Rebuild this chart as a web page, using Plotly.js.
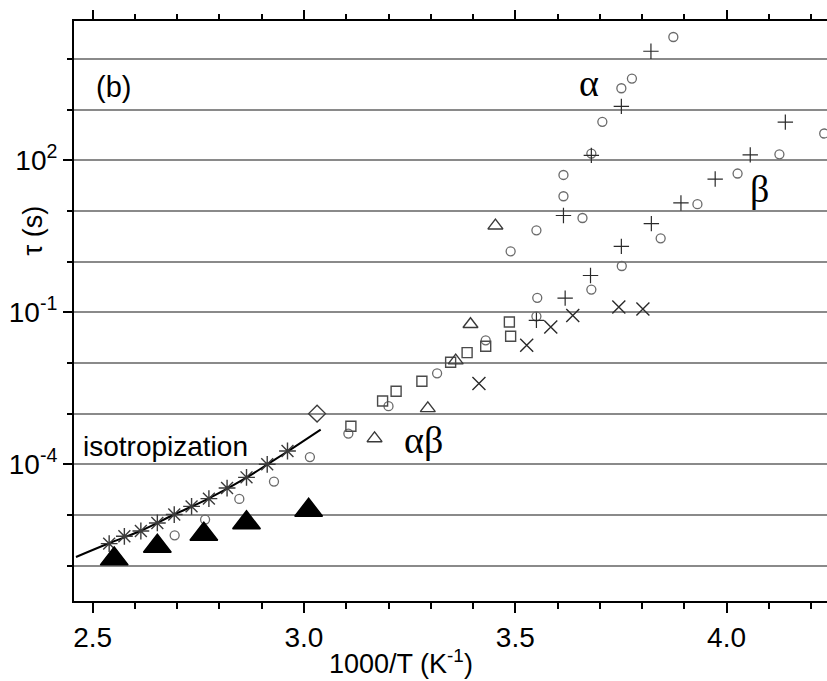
<!DOCTYPE html>
<html>
<head>
<meta charset="utf-8">
<script src="https://cdn.plot.ly/plotly-3.0.1.min.js"></script>
<style>html,body{margin:0;padding:0;background:#fff;}#chart{width:827px;height:681px;}</style>
</head>
<body>
<div id="chart"></div>
<script>
// Open circles
const circX = [3.874, 3.776, 3.751, 3.706, 3.680, 3.614, 3.614, 3.659, 3.550, 3.489, 3.844, 3.752, 3.680, 3.552, 3.550, 3.931, 4.026, 4.125, 4.231, 3.430, 3.315, 3.200, 3.105, 3.014, 2.929, 2.847, 2.766, 2.694];
const circY = [2.71e4, 4.09e3, 2.64e3, 574, 135.5, 51.3, 19.5, 7.26, 4.15, 1.60, 2.88, 0.820, 0.281, 0.193, 0.0834, 13.6, 54.8, 131, 338, 0.028, 6.25e-3, 1.40e-3, 4.04e-4, 1.39e-4, 4.56e-5, 2.07e-5, 8.11e-6, 3.97e-6];
// Plus
const plusX = [3.821, 3.751, 3.680, 3.614, 3.822, 3.751, 3.678, 3.618, 3.550, 3.892, 3.973, 4.056, 4.139];
const plusY = [1.42e4, 1161, 125, 8.13, 5.62, 2.0, 0.532, 0.19, 0.0695, 14.4, 42.6, 128, 566];
// Crosses (x)
const crossX = [3.414, 3.527, 3.584, 3.636, 3.745, 3.802];
const crossY = [3.92e-3, 0.0223, 0.0513, 0.0865, 0.127, 0.116];
// Open squares
const sqX = [3.486, 3.489, 3.430, 3.386, 3.347, 3.279, 3.218, 3.186, 3.111];
const sqY = [0.0643, 0.0336, 0.0213, 0.016, 0.0103, 4.35e-3, 2.76e-3, 1.77e-3, 5.62e-4];
// Open triangles
const triOX = [3.453, 3.394, 3.359, 3.293, 3.167];
const triOY = [5.12, 0.0582, 0.0111, 1.27e-3, 3.24e-4];
// Open diamond
const diaX = [3.031];
const diaY = [1.0e-3];
// Asterisks (isotropization)
const astX = [2.539, 2.575, 2.614, 2.653, 2.693, 2.734, 2.775, 2.818, 2.864, 2.913, 2.961];
const astY = [2.72e-6, 3.79e-6, 4.83e-6, 6.95e-6, 1.02e-5, 1.48e-5, 2.10e-5, 3.40e-5, 5.53e-5, 1.0e-4, 1.83e-4];
// Filled triangles
const triFX = [2.551, 2.653, 2.763, 2.864, 3.011];
const triFY = [1.36e-6, 2.41e-6, 4.16e-6, 7.0e-6, 1.24e-5];
// Isotropization fit curve
const fitX = [2.4605, 2.5386, 2.614, 2.692, 2.775, 2.865, 2.912, 2.962, 3.0395];
const fitY = [1.48e-6, 2.76e-6, 4.88e-6, 1.01e-5, 2.13e-5, 5.53e-5, 9.78e-5, 1.81e-4, 4.84e-4];
// Axis ticks
const xMajor = [2.5, 3.0, 3.5, 4.0];
const xMinor = [2.6, 2.7, 2.8, 2.9, 3.1, 3.2, 3.3, 3.4, 3.6, 3.7, 3.8, 3.9, 4.1, 4.2];
const yDecades = [1e-6,1e-5,1e-4,1e-3,1e-2,1e-1,1,10,100,1e3,1e4];
const yLabVals = [1e-4, 1e-1, 1e2];
const yLabText = ['10<sup>-4</sup>', '10<sup>-1</sup>', '10<sup>2</sup>'];

const SANS = 'Liberation Sans, Arial, sans-serif';
const SERIF = 'Liberation Serif, Times New Roman, serif';

function sc(x, y, sym, size, color, w) {
  return {x: x, y: y, type: 'scatter', mode: 'markers', showlegend: false, hoverinfo: 'skip',
    marker: {symbol: sym, size: size, color: color, line: {color: color, width: w}}};
}
function dummy(ax) {
  const t = {x: [null], y: [null], type: 'scatter', mode: 'markers', showlegend: false, hoverinfo: 'skip'};
  return Object.assign(t, ax);
}

const traces = [
  {x: fitX, y: fitY, type: 'scatter', mode: 'lines', line: {color: '#000', width: 2, shape: 'spline'}, showlegend: false, hoverinfo: 'skip'},
  sc(circX, circY, 'circle-open', 9, '#6a6a6a', 1.3),
  sc(plusX, plusY, 'cross-thin-open', 11, '#2a2a2a', 1.2),
  sc(crossX, crossY, 'x-thin-open', 13, '#2a2a2a', 1.4),
  sc(sqX, sqY, 'square-open', 10, '#4a4a4a', 1.4),
  sc(triOX, triOY, 'triangle-up-open', 13, '#3a3a3a', 1.4),
  sc(diaX, diaY, 'diamond-open', 13, '#3a3a3a', 1.4),
  sc(astX, astY, 'asterisk-open', 14, '#3a3a3a', 1.4),
  sc(triFX, triFY, 'triangle-up', 24, '#000', 1.5),
  dummy({yaxis: 'y2'}),
  dummy({xaxis: 'x2'}),
  dummy({xaxis: 'x3'})
];

const yRange = [-6.698, 4.749];
const xRange = [2.4558, 4.2376];

const layout = {
  width: 827, height: 681,
  margin: {l: 74, r: 0, t: 21, b: 80},
  paper_bgcolor: '#fff', plot_bgcolor: '#fff',
  showlegend: false,
  font: {family: SANS, color: '#000'},
  xaxis: {
    range: xRange, tick0: 2.5, dtick: 0.5, tickformat: '.1f',
    ticks: 'outside', ticklen: 10, tickwidth: 2, tickcolor: '#000',
    showline: true, linewidth: 2, linecolor: '#000', mirror: true,
    showgrid: false, zeroline: false,
    tickfont: {family: SANS, size: 28, color: '#000'},
    minor: {dtick: 0.1, tick0: 2.5, ticks: 'outside', ticklen: 6, tickwidth: 2, tickcolor: '#000', showgrid: false}
  },
  xaxis2: {
    range: xRange, overlaying: 'x', side: 'top', anchor: 'y',
    tickmode: 'array', tickvals: xMinor,
    ticks: 'outside', ticklen: 6, tickwidth: 2, tickcolor: '#000',
    showline: false, showgrid: false, zeroline: false, showticklabels: false
  },
  xaxis3: {
    range: xRange, overlaying: 'x', side: 'top', anchor: 'y',
    tickmode: 'array', tickvals: xMajor,
    ticks: 'outside', ticklen: 10, tickwidth: 2, tickcolor: '#000',
    showline: false, showgrid: false, zeroline: false, showticklabels: false
  },
  yaxis: {
    type: 'log', range: yRange,
    tickmode: 'array', tickvals: yDecades, showticklabels: false,
    ticks: 'outside', ticklen: 5, tickwidth: 2, tickcolor: '#000',
    showline: true, linewidth: 2, linecolor: '#000', mirror: false,
    showgrid: true, gridcolor: '#8a8a8a', gridwidth: 2, zeroline: false
  },
  yaxis2: {
    type: 'log', range: yRange, overlaying: 'y', side: 'left', anchor: 'x',
    tickmode: 'array', tickvals: yLabVals, ticktext: yLabText,
    ticks: 'outside', ticklen: 10, tickwidth: 2, tickcolor: '#000',
    showline: false, showgrid: false, zeroline: false,
    tickfont: {family: SANS, size: 28, color: '#000'}
  },
  annotations: [
    {text: '(b)', xref: 'paper', yref: 'paper', x: 0.0522, y: 0.8866, xanchor: 'center', yanchor: 'middle', showarrow: false, font: {family: SANS, size: 29, color: '#000'}},
    {text: 'isotropization', xref: 'paper', yref: 'paper', x: 0.1215, y: 0.2667, xanchor: 'center', yanchor: 'middle', showarrow: false, font: {family: SANS, size: 28, color: '#000'}},
    {text: 'α', xref: 'x', yref: 'y', x: 3.6735, y: 3.522, xanchor: 'center', yanchor: 'middle', showarrow: false, font: {family: SERIF, size: 38, color: '#000'}},
    {text: 'β', xref: 'x', yref: 'y', x: 4.077, y: 1.441, xanchor: 'center', yanchor: 'middle', showarrow: false, font: {family: SERIF, size: 38, color: '#000'}},
    {text: 'αβ', xref: 'x', yref: 'y', x: 3.282, y: -3.516, xanchor: 'center', yanchor: 'middle', showarrow: false, font: {family: SERIF, size: 38, color: '#000'}},
    {text: '1000/T (K<sup>-1</sup>)', xref: 'paper', yref: 'paper', x: 0.4343, y: -0.1052, xanchor: 'center', yanchor: 'middle', showarrow: false, font: {family: SANS, size: 27, color: '#000'}},
    {text: 'τ (s)', xref: 'paper', yref: 'paper', x: -0.0544, y: 0.639, xanchor: 'center', yanchor: 'middle', textangle: -90, showarrow: false, font: {family: SANS, size: 27, color: '#000'}}
  ]
};

Plotly.newPlot('chart', traces, layout, {staticPlot: true, displayModeBar: false});
</script>
</body>
</html>
